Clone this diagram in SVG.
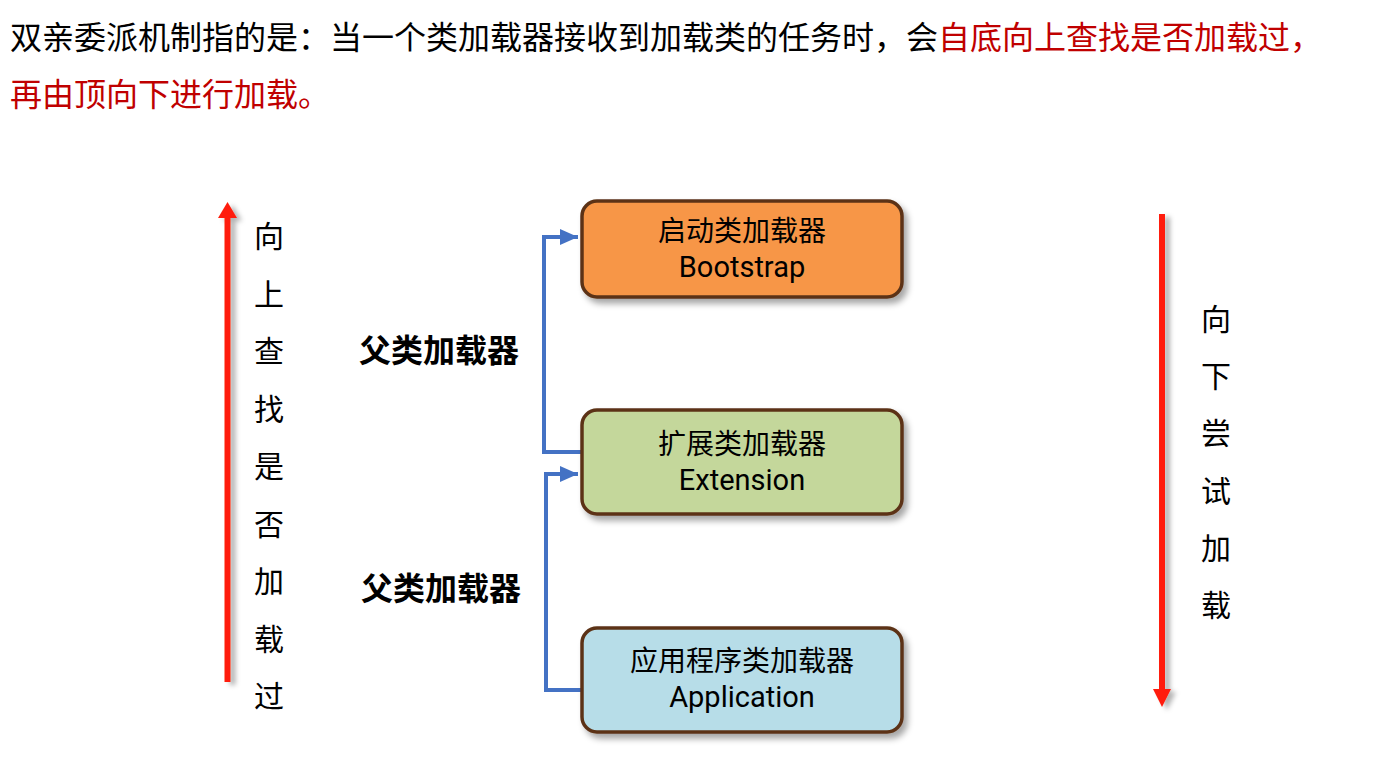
<svg xmlns="http://www.w3.org/2000/svg" width="1390" height="776" viewBox="0 0 1390 776">
<style>
.cjk{font-family:"Noto Sans CJK SC","Noto Sans",sans-serif;}
.title{font-size:32px;}
.red{fill:#c00000;}
.blk{fill:#000;}
.box{stroke:#5c3317;stroke-width:3.5;}
.nc{font-family:"Noto Sans CJK SC",sans-serif;font-size:28px;fill:#000;text-anchor:middle;}
.nl{font-family:Roboto,"Noto Sans",sans-serif;font-size:29px;fill:#000;text-anchor:middle;}
.lbl{font-family:"Noto Sans CJK SC",sans-serif;font-size:32px;font-weight:bold;fill:#000;}
.vt{font-family:"Noto Sans CJK SC",sans-serif;font-size:30px;fill:#000;text-anchor:middle;}
.conn{fill:none;stroke:#4472c4;stroke-width:4;}
.bigarrow{stroke:#ff1e0a;stroke-width:6;}
</style>
<defs>
<filter id="sh" x="-10%" y="-10%" width="130%" height="140%">
<feDropShadow dx="4" dy="5" stdDeviation="3" flood-color="#000" flood-opacity="0.35"/>
</filter>
<filter id="ash" x="-100%" y="-5%" width="400%" height="115%">
<feDropShadow dx="5" dy="3" stdDeviation="2.5" flood-color="#000" flood-opacity="0.3"/>
</filter>
<marker id="bh" viewBox="0 0 10 10" refX="10" refY="5" markerWidth="4.5" markerHeight="4" markerUnits="strokeWidth" orient="auto" preserveAspectRatio="none">
<path d="M0,0 L10,5 L0,10 Z" fill="#4472c4"/>
</marker>
</defs>
<rect width="1390" height="776" fill="#fff"/>

<g id="title">
<text class="cjk title" x="10" y="49"><tspan class="blk">双亲委派机制指的是：当一个类加载器接收到加载类的任务时，会</tspan><tspan class="red">自底向上查找是否加载过，</tspan></text>
<text class="cjk title red" x="10" y="106">再由顶向下进行加载。</text>
</g>

<g id="connectors">
<path class="conn" d="M581,452 H544 V237 H578" marker-end="url(#bh)"/>
<path class="conn" d="M581,690 H546 V474 H578" marker-end="url(#bh)"/>
</g>

<g id="label-parent-1"><text class="lbl" x="359" y="362">父类加载器</text></g>
<g id="label-parent-2"><text class="lbl" x="361" y="600">父类加载器</text></g>

<g id="bootstrap">
<rect class="box" x="582" y="201" width="320" height="96" rx="15" fill="#f79646" filter="url(#sh)"/>
<text class="nc" x="742" y="241">启动类加载器</text>
<text class="nl" x="742" y="277">Bootstrap</text>
</g>

<g id="extension">
<rect class="box" x="582" y="410" width="320" height="104" rx="15" fill="#c4d79b" filter="url(#sh)"/>
<text class="nc" x="742" y="454">扩展类加载器</text>
<text class="nl" x="742" y="490">Extension</text>
</g>

<g id="application">
<rect class="box" x="582" y="628" width="320" height="104" rx="15" fill="#b7dde8" filter="url(#sh)"/>
<text class="nc" x="742" y="671">应用程序类加载器</text>
<text class="nl" x="742" y="707">Application</text>
</g>

<g id="up-arrow" filter="url(#ash)">
<line class="bigarrow" x1="227.5" y1="682" x2="227.5" y2="216"/>
<path d="M218,218 L227.5,202 L237,218 Z" fill="#ff1e0a"/>
</g>
<g id="up-text">
<text class="vt" x="269" y="247">向</text>
<text class="vt" x="269" y="304.5">上</text>
<text class="vt" x="269" y="362">查</text>
<text class="vt" x="269" y="419.5">找</text>
<text class="vt" x="269" y="477">是</text>
<text class="vt" x="269" y="534.5">否</text>
<text class="vt" x="269" y="592">加</text>
<text class="vt" x="269" y="649.5">载</text>
<text class="vt" x="269" y="707">过</text>
</g>

<g id="down-arrow" filter="url(#ash)">
<line class="bigarrow" x1="1162" y1="214" x2="1162" y2="691"/>
<path d="M1153,689 L1162,707 L1171,689 Z" fill="#ff1e0a"/>
</g>
<g id="down-text">
<text class="vt" x="1216" y="330">向</text>
<text class="vt" x="1216" y="387">下</text>
<text class="vt" x="1216" y="444">尝</text>
<text class="vt" x="1216" y="502">试</text>
<text class="vt" x="1216" y="559">加</text>
<text class="vt" x="1216" y="616">载</text>
</g>
</svg>
